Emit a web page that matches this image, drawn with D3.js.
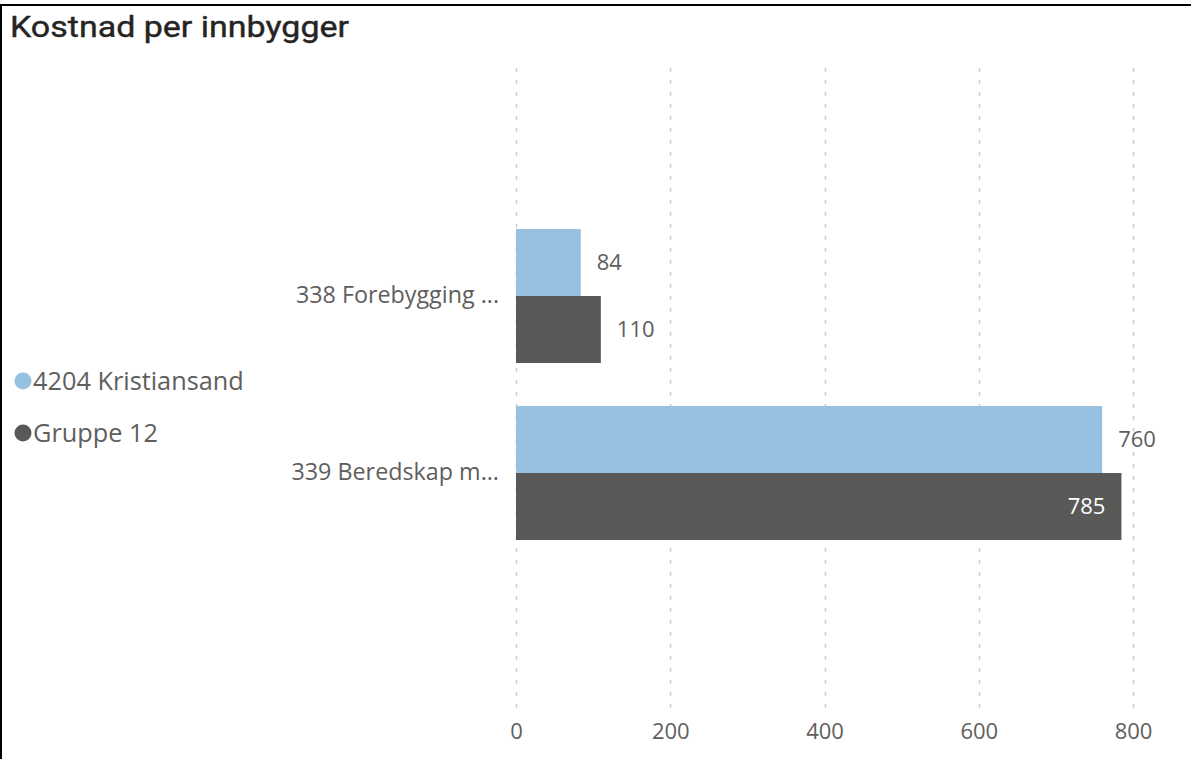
<!DOCTYPE html>
<html>
<head>
<meta charset="utf-8">
<script src="https://cdn.jsdelivr.net/npm/d3@7"></script>
<style>
  html, body { margin: 0; padding: 0; background: #fff; }
  svg { display: block; }
</style>
</head>
<body>
<svg id="chart" width="1191" height="759"></svg>
<script>
// Kostnad per innbygger – two services, municipality vs. comparison group
const categories = ["338 Forebygging ...", "339 Beredskap m..."];
const seriesNames = ["4204 Kristiansand", "Gruppe 12"];
const kristiansand = [84, 760];
const gruppe12 = [110, 785];
const tickValues = [0, 200, 400, 600, 800];
const colors = ["#97c1e1", "#595958"];

const W = 1191, H = 759;
const svg = d3.select("#chart");
const fontBody = "'Open Sans', 'Noto Sans', sans-serif";
const textGrey = "#605e5c";

// frame lines (top and left)
svg.append("rect").attr("x", 0).attr("y", 4).attr("width", W).attr("height", 2).attr("fill", "#000");
svg.append("rect").attr("x", 0).attr("y", 4).attr("width", 2).attr("height", H - 4).attr("fill", "#000");

// title
svg.append("text")
  .attr("x", 10).attr("y", 37)
  .attr("font-family", "'Roboto', 'DejaVu Sans Condensed', sans-serif")
  .attr("font-size", 30)
  .attr("font-weight", 400)
  .attr("fill", "#252423")
  .attr("stroke", "#252423").attr("stroke-width", 0.4)
  .attr("textLength", 339)
  .attr("lengthAdjust", "spacingAndGlyphs")
  .text("Kostnad per innbygger");

// scales
const x = d3.scaleLinear().domain([0, 800]).range([516, 1133]);
const y = d3.scaleBand().domain(categories).range([229, 540]).paddingInner(43 / 177).paddingOuter(0);
const ySub = d3.scaleBand().domain(seriesNames).range([0, y.bandwidth()]);

// dotted vertical gridlines
svg.append("g").selectAll("line").data(tickValues).join("line")
  .attr("x1", d => Math.round(x(d)) + 0.5).attr("x2", d => Math.round(x(d)) + 0.5)
  .attr("y1", 68).attr("y2", 710)
  .attr("stroke", "#c8c8c8").attr("stroke-width", 1.5)
  .attr("stroke-dasharray", "3.5,8.5");

// x-axis tick labels
const xAxis = d3.axisBottom(x).tickValues(tickValues).tickSize(0).tickPadding(0).tickFormat(d3.format("d"));
const gx = svg.append("g").attr("transform", "translate(0,731)").call(xAxis);
gx.select(".domain").remove();
gx.selectAll("text")
  .attr("dy", "0.35em")
  .attr("font-family", fontBody).attr("font-size", 22).attr("fill", textGrey);

// category labels
const yAxis = d3.axisLeft(y).tickSize(0).tickPadding(0);
const gy = svg.append("g").attr("transform", "translate(499,0)").call(yAxis);
gy.select(".domain").remove();
gy.selectAll("text")
  .attr("font-family", fontBody).attr("font-size", 23.3).attr("fill", textGrey);

// bars
const rows = categories.map((c, i) => ({
  cat: c,
  vals: [
    { s: seriesNames[0], v: kristiansand[i], ci: 0 },
    { s: seriesNames[1], v: gruppe12[i], ci: 1 }
  ]
}));

const groups = svg.append("g").selectAll("g").data(rows).join("g")
  .attr("transform", d => `translate(0,${y(d.cat)})`);

groups.selectAll("rect").data(d => d.vals).join("rect")
  .attr("x", x(0))
  .attr("y", d => ySub(d.s))
  .attr("width", d => x(d.v) - x(0))
  .attr("height", ySub.bandwidth())
  .attr("fill", d => colors[d.ci]);

// data labels: outside the bar, or inside when it would run past the plot
groups.selectAll("text").data(d => d.vals).join("text")
  .attr("y", d => ySub(d.s) + ySub.bandwidth() / 2)
  .attr("dy", "0.35em")
  .attr("font-family", fontBody).attr("font-size", 22)
  .each(function(d) {
    const inside = x(d.v) + 56 > 1170;
    d3.select(this)
      .attr("x", inside ? x(d.v) - 16 : x(d.v) + 16)
      .attr("text-anchor", inside ? "end" : "start")
      .attr("fill", inside ? "#ffffff" : textGrey);
  })
  .text(d => d.v);

// legend
const legend = svg.append("g").selectAll("g").data(seriesNames).join("g")
  .attr("transform", (d, i) => `translate(0,${381 + i * 52})`);
legend.append("circle").attr("cx", 23).attr("cy", 0).attr("r", 8.5).attr("fill", (d, i) => colors[i]);
legend.append("text").attr("x", 33).attr("y", 0).attr("dy", "0.35em")
  .attr("font-family", fontBody).attr("font-size", 25.3).attr("fill", textGrey)
  .text(d => d);
</script>
</body>
</html>
